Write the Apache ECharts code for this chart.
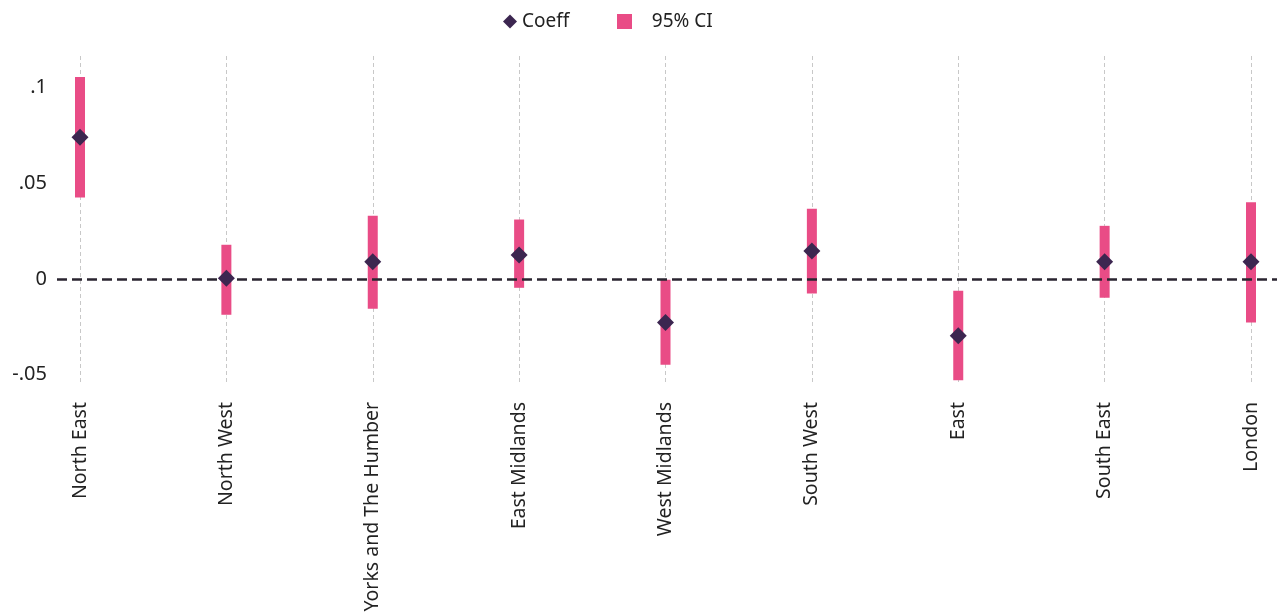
<!DOCTYPE html>
<html>
<head>
<meta charset="utf-8">
<script src="https://cdn.jsdelivr.net/npm/echarts@6/dist/echarts.min.js"></script>
<style>
  html, body { margin: 0; padding: 0; background: #fff; }
  #chart { width: 1283px; height: 616px; }
</style>
</head>
<body>
<div id="chart"></div>
<script>
const regions = ['North East', 'North West', 'Yorks and The Humber', 'East Midlands',
  'West Midlands', 'South West', 'East', 'South East', 'London']
const coeff = [0.074, 0.0003, 0.0089, 0.0125, -0.0228, 0.0146, -0.0298, 0.0089, 0.0089]
const ciLow = [0.0425, -0.0188, -0.0157, -0.0047, -0.045, -0.0077, -0.0531, -0.0099, -0.0228]
const ciHigh = [0.1055, 0.0178, 0.033, 0.031, -0.0005, 0.0366, -0.0063, 0.0277, 0.040]
const yTicks = [-0.05, 0, 0.05, 0.1]

const PINK = '#E94C86'
const PURPLE = '#3C2650'
const FONT = 'Noto Sans'

const chart = echarts.init(document.getElementById('chart'))

chart.setOption({
  animation: false,
  textStyle: { fontFamily: FONT },
  legend: [
    {
      top: 7,
      left: 498,
      itemWidth: 14,
      itemHeight: 14,
      textStyle: { fontSize: 19, color: '#222', fontFamily: FONT },
      data: [{ name: 'Coeff', icon: 'diamond', itemStyle: { color: PURPLE, opacity: 1 } }]
    },
    {
      top: 7,
      left: 612,
      itemWidth: 15,
      itemHeight: 15,
      formatter: name => '   ' + name,
      textStyle: { fontSize: 19, color: '#222', fontFamily: FONT },
      data: [{ name: '95% CI', icon: 'rect', itemStyle: { color: PINK } }]
    }
  ],
  grid: { left: 80, right: 32, top: 56, bottom: 232 },
  xAxis: {
    type: 'category',
    data: regions,
    boundaryGap: false,
    axisLine: { show: false },
    axisTick: { show: false },
    splitLine: { show: true, lineStyle: { color: '#c8c8c8', type: [4, 3], width: 1 } },
    axisLabel: { rotate: 90, margin: 18, fontSize: 19.5, color: '#222', interval: 0 }
  },
  yAxis: {
    type: 'value',
    min: -0.055,
    max: 0.1165,
    axisLine: { show: false },
    axisTick: { show: false },
    splitLine: { show: false },
    axisLabel: {
      customValues: yTicks,
      margin: 33,
      fontSize: 20,
      color: '#222',
      formatter: v => v === 0 ? '0' : String(v).replace('0.', '.')
    }
  },
  series: [
    {
      name: '95% CI',
      type: 'custom',
      itemStyle: { color: PINK },
      data: regions.map((r, i) => [i, ciLow[i], ciHigh[i]]),
      renderItem: (params, api) => {
        const lo = api.coord([api.value(0), api.value(1)])
        const hi = api.coord([api.value(0), api.value(2)])
        const w = 10
        return {
          type: 'rect',
          shape: { x: lo[0] - w / 2, y: hi[1], width: w, height: lo[1] - hi[1] },
          style: { fill: PINK }
        }
      },
      z: 2
    },
    {
      name: 'Coeff',
      type: 'scatter',
      symbol: 'diamond',
      symbolSize: 17,
      itemStyle: { color: PURPLE, opacity: 1 },
      data: coeff,
      z: 4,
      markLine: {
        silent: true,
        symbol: 'none',
        label: { show: false },
        lineStyle: { color: '#2a2530', type: [10, 5], width: 2.5, opacity: 1 },
        data: [[{ x: 57, yAxis: 0 }, { x: 1277, yAxis: 0 }]],
        z: 3
      }
    }
  ]
})
</script>
</body>
</html>
